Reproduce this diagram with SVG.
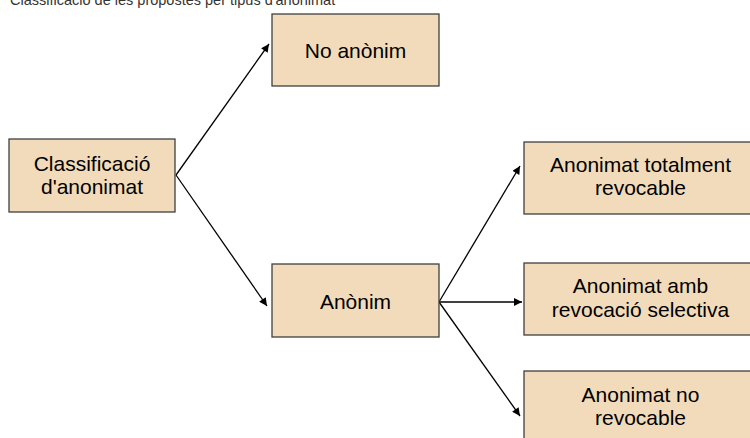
<svg xmlns="http://www.w3.org/2000/svg" width="750" height="438" viewBox="0 0 750 438">
<style>
.box{fill:#F2DBBA;stroke:#404040;stroke-width:1.3}
.lbl{font-family:"Liberation Sans",Arial,sans-serif;font-size:21px;fill:#000;text-anchor:middle}
.title{font-family:"Liberation Sans",Arial,sans-serif;font-size:14.5px;fill:#333}
.conn{stroke:#000;stroke-width:1.3;fill:none;marker-end:url(#ah)}
</style>
<defs>
<marker id="ah" viewBox="0 0 10 10" refX="10" refY="5" markerWidth="10" markerHeight="8" markerUnits="userSpaceOnUse" orient="auto">
<path d="M0,0 L10,5 L0,10 z" fill="#000"/>
</marker>
</defs>
<text class="title" x="10" y="4.5">Classificació de les propostes per tipus d'anonimat</text>
<g id="connectors">
<line class="conn" x1="176" y1="175" x2="269" y2="44"/>
<line class="conn" x1="176" y1="175" x2="267" y2="306"/>
<line class="conn" x1="439" y1="302" x2="520" y2="166"/>
<line class="conn" x1="439" y1="302" x2="522" y2="302"/>
<line class="conn" x1="439" y1="302" x2="520" y2="416"/>
</g>
<g id="n_classificacio">
<rect class="box" x="9" y="139" width="166" height="73"/>
<text class="lbl" x="92" y="170.5">Classificació</text>
<text class="lbl" x="92" y="193.5">d'anonimat</text>
</g>
<g id="n_noanonim">
<rect class="box" x="272" y="14" width="167" height="72"/>
<text class="lbl" x="355.5" y="58">No anònim</text>
</g>
<g id="n_anonim">
<rect class="box" x="272" y="264" width="167" height="73"/>
<text class="lbl" x="355.5" y="309">Anònim</text>
</g>
<g id="n_totalment">
<rect class="box" x="524" y="142" width="233" height="72"/>
<text class="lbl" x="640.5" y="171.5">Anonimat totalment</text>
<text class="lbl" x="640.5" y="195">revocable</text>
</g>
<g id="n_selectiva">
<rect class="box" x="524" y="263" width="233" height="72"/>
<text class="lbl" x="640.5" y="293.3">Anonimat amb</text>
<text class="lbl" x="640.5" y="316.7">revocació selectiva</text>
</g>
<g id="n_norevocable">
<rect class="box" x="524" y="371" width="233" height="72"/>
<text class="lbl" x="640.5" y="401.7">Anonimat no</text>
<text class="lbl" x="640.5" y="424.5">revocable</text>
</g>
</svg>
